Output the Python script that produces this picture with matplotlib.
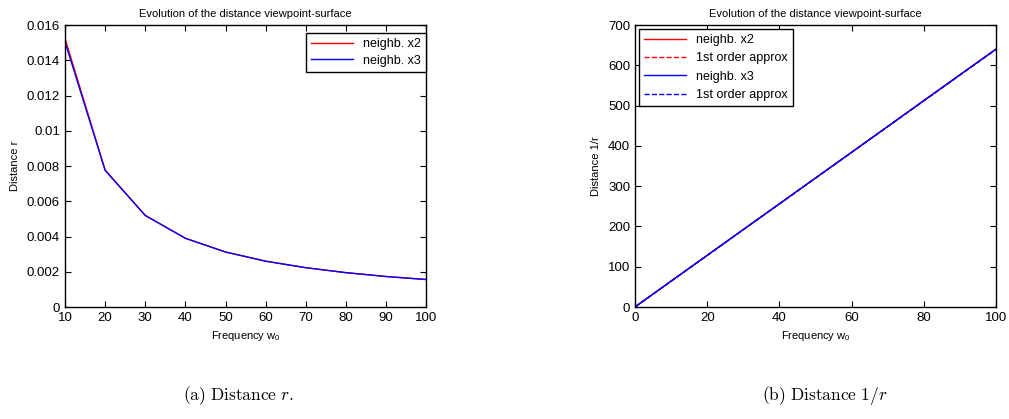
import matplotlib
matplotlib.use("Agg")
import matplotlib.pyplot as plt

plt.rcParams["font.family"] = ["Liberation Sans", "DejaVu Sans"]
plt.rcParams["mathtext.fontset"] = "custom"
plt.rcParams["mathtext.rm"] = "Liberation Sans"

# left panel: distance r vs frequency
w = [10, 20, 30, 40, 50, 60, 70, 80, 90, 100]
r_x2 = [0.01524, 0.00778, 0.00520, 0.00390, 0.00312, 0.00260, 0.00223, 0.00195, 0.00173, 0.00156]
r_x3 = [0.01505, 0.00775, 0.00519, 0.00390, 0.00312, 0.00260, 0.00223, 0.00195, 0.00173, 0.00156]

# right panel: 1/r vs frequency
w1 = [0, 10, 20, 30, 40, 50, 60, 70, 80, 90, 100]
inv_x2 = [0, 64.5, 128.5, 192.5, 256.5, 320.5, 384.5, 448.5, 513, 577, 641]
inv_x2_approx = [0, 64, 128, 192, 256, 320, 384, 448, 512, 576, 640]
inv_x3 = [0, 64.2, 128.2, 192.2, 256.2, 320.2, 384.2, 448.2, 512.5, 576.5, 640]
inv_x3_approx = [0, 64, 128, 192, 256, 320, 384, 448, 512, 576, 640]

TITLE = "Evolution of the distance viewpoint-surface"
XLAB = r"Frequency w$_{\mathregular{0}}$"

fig = plt.figure(figsize=(10.09, 4.19), dpi=100)
ax1 = fig.add_axes([0.0644, 0.2673, 0.358, 0.673])
ax2 = fig.add_axes([0.6293, 0.2673, 0.358, 0.673])

ax1.plot(w, r_x2, "r-", lw=1, label="neighb. x2")
ax1.plot(w, r_x3, "b-", lw=1, label="neighb. x3")
ax1.set_xlim(10, 100); ax1.set_ylim(0, 0.016)
ax1.set_xticks(range(10, 101, 10))
yt = [0, 0.002, 0.004, 0.006, 0.008, 0.01, 0.012, 0.014, 0.016]
ax1.set_yticks(yt)
ax1.set_yticklabels(["0", "0.002", "0.004", "0.006", "0.008", "0.01", "0.012", "0.014", "0.016"])
ax1.set_ylabel("Distance r", fontsize=8, labelpad=5)
ax1.legend(loc="upper right", bbox_to_anchor=(1.0, 0.97), fontsize=9.0, fancybox=False,
           edgecolor="k", framealpha=1, borderaxespad=0.0, handlelength=3.4,
           labelspacing=0.35)

ax2.plot(w1, inv_x2, "r-", lw=1, label="neighb. x2")
ax2.plot(w1, inv_x2_approx, "r--", lw=1, label="1st order approx")
ax2.plot(w1, inv_x3, "b-", lw=1, label="neighb. x3")
ax2.plot(w1, inv_x3_approx, "b--", lw=1, label="1st order approx")
ax2.set_xlim(0, 100); ax2.set_ylim(0, 700)
ax2.set_xticks(range(0, 101, 20)); ax2.set_yticks(range(0, 701, 100))
ax2.set_ylabel("Distance 1/r", fontsize=8, labelpad=5)
ax2.legend(loc="upper left", bbox_to_anchor=(0.01, 0.985), fontsize=9.0, fancybox=False,
           edgecolor="k", framealpha=1, borderaxespad=0.0, handlelength=3.4,
           labelspacing=0.5)

for ax in (ax1, ax2):
    ax.set_title(TITLE, fontsize=8, pad=6)
    ax.set_xlabel(XLAB, fontsize=8, labelpad=4)
    ax.tick_params(direction="in", top=True, right=True, labelsize=9.5, length=4, pad=3.5)
    for s in ax.spines.values():
        s.set_linewidth(1.0)

fig.text(0.236, 0.045, r"$\mathrm{(a)\ Distance\ }r\mathrm{.}$", fontsize=12.5, ha="center",
         math_fontfamily="cm")
fig.text(0.817, 0.045, r"$\mathrm{(b)\ Distance\ }1/r$", fontsize=12.5, ha="center",
         math_fontfamily="cm")

fig.savefig("out.png", dpi=100)
